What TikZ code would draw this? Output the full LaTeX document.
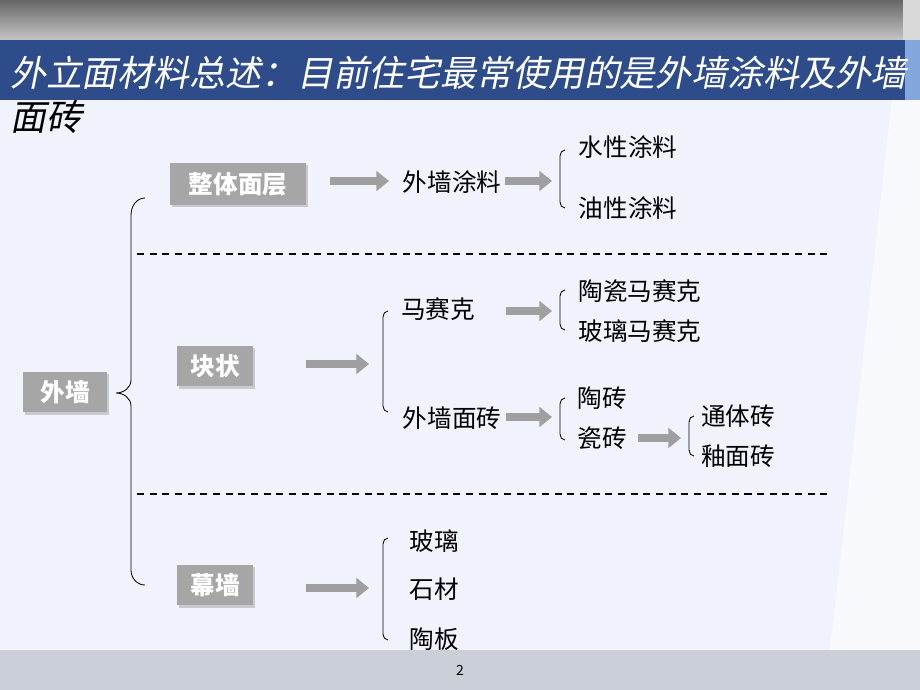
\documentclass[tikz,border=0pt]{standalone}
\usepackage{fontspec}
\setmainfont{Noto Sans CJK SC}
\newfontfamily\titlefont[FakeSlant=0.2]{Noto Sans CJK SC}
\usetikzlibrary{arrows.meta,shadows}
\definecolor{pagebg}{HTML}{F0F3FB}
\definecolor{barblue}{HTML}{2E4B8A}
\definecolor{boxgray}{HTML}{A6A6A6}
\definecolor{footgray}{HTML}{CBCFD8}
\tikzset{
  box/.style={fill=boxgray, text=white, font=\bfseries\fontsize{17.5}{18}\selectfont,
    inner sep=0pt, anchor=center, drop shadow={shadow xshift=1.5pt, shadow yshift=-1.5pt, opacity=0.35}},
  item/.style={font=\fontsize{17.5}{18}\selectfont, inner sep=0pt},
  bigarrow/.style={draw=gray!75, line width=5.5pt, -{Triangle[length=9pt,width=14pt]}},
  sep/.style={dashed, line width=0.9pt, dash pattern=on 5pt off 4pt},
}
% bracket from (x,top) to (x,bottom)
\newcommand{\bracketpath}[3]{\draw[line width=0.6pt] (#1+5,#2) to[out=180,in=90] (#1,#2+6) -- (#1,#3-6) to[out=-90,in=180] (#1+5,#3);}
\begin{document}
\begin{tikzpicture}[x=0.025cm, y=-0.025cm]
    % background
    \useasboundingbox (0,0) rectangle (920,690);
    \fill[pagebg] (0,0) rectangle (920,690);
    \fill[white, opacity=0.5] (903,0) -- (920,0) -- (920,650) -- (830,650) -- cycle;
    \shade[top color=gray!80!black, bottom color=gray!45] (0,0) rectangle (903,40);
    \fill[gray!30] (903,0) rectangle (920,40);
    \fill[barblue] (0,40) rectangle (905,100);
    \fill[cyan!50!blue!50] (905,40) rectangle (920,100);
    \fill[footgray] (0,650) rectangle (920,690);
    \node[font=\fontsize{10}{10}\selectfont] (page) at (460,670) {2};

    % title
    \node[anchor=west, text=white, font=\titlefont\fontsize{25.5}{26}\selectfont, inner sep=0pt] (title1) at (10,73)
        {外立面材料总述：目前住宅最常使用的是外墙涂料及外墙};
    \node[anchor=west, font=\titlefont\fontsize{25.5}{26}\selectfont, inner sep=0pt] (title2) at (10,117) {面砖};

    % boxes
    \node[box, minimum width=60pt, minimum height=29pt] (wall) at (65,392) {外墙};
    \node[box, minimum width=97pt, minimum height=30pt] (whole) at (238,184) {整体面层};
    \node[box, minimum width=54pt, minimum height=29pt] (block) at (215,366) {块状};
    \node[box, minimum width=54pt, minimum height=29pt] (curtain) at (215,585) {幕墙};

    % main brace
    \draw[line width=0.6pt] (145,198) to[out=180,in=90] (131,215) -- (131,380)
        to[out=-90,in=0] (116,393) to[out=0,in=90] (131,406) -- (131,570) to[out=-90,in=180] (145,585);

    % separators
    \coordinate (s1a) at (137,254); \coordinate (s1b) at (830,254);
    \coordinate (s2a) at (137,494); \coordinate (s2b) at (830,494);
    \draw[sep] (s1a) -- (s1b);
    \draw[sep] (s2a) -- (s2b);

    % texts
    \node[item] (paint) at (452,182) {外墙涂料};
    \node[item] (water) at (628,147) {水性涂料};
    \node[item] (oil) at (628,208) {油性涂料};
    \node[item] (mosaic) at (438,309) {马赛克};
    \node[item] (cmosaic) at (640,291) {陶瓷马赛克};
    \node[item] (gmosaic) at (640,331) {玻璃马赛克};
    \node[item] (tile) at (452,418) {外墙面砖};
    \node[item] (clay) at (602,398) {陶砖};
    \node[item] (porc) at (602,438) {瓷砖};
    \node[item] (full) at (738,416) {通体砖};
    \node[item] (glaze) at (738,456) {釉面砖};
    \node[item] (glass) at (434,541) {玻璃};
    \node[item] (stone) at (434,589) {石材};
    \node[item] (panel) at (434,639) {陶板};

    % brackets
    \bracketpath{560}{150}{208}
    \bracketpath{383}{311}{412}
    \bracketpath{560}{290}{330}
    \bracketpath{560}{398}{440}
    \bracketpath{689}{416}{456}
    \bracketpath{383}{538}{640}

    % arrows
    \coordinate (a1) at (330,181); \coordinate (a1e) at (389,181);
    \coordinate (a2) at (505,181); \coordinate (a2e) at (552,181);
    \coordinate (a3) at (306,364); \coordinate (a3e) at (369,364);
    \coordinate (a4) at (506,311); \coordinate (a4e) at (552,311);
    \coordinate (a5) at (506,417); \coordinate (a5e) at (552,417);
    \coordinate (a6) at (638,438); \coordinate (a6e) at (681,438);
    \coordinate (a7) at (306,588); \coordinate (a7e) at (369,588);
    \foreach \s/\e in {a1/a1e,a2/a2e,a3/a3e,a4/a4e,a5/a5e,a6/a6e,a7/a7e}
        \draw[bigarrow] (\s) -- (\e);
\end{tikzpicture}
\end{document}
